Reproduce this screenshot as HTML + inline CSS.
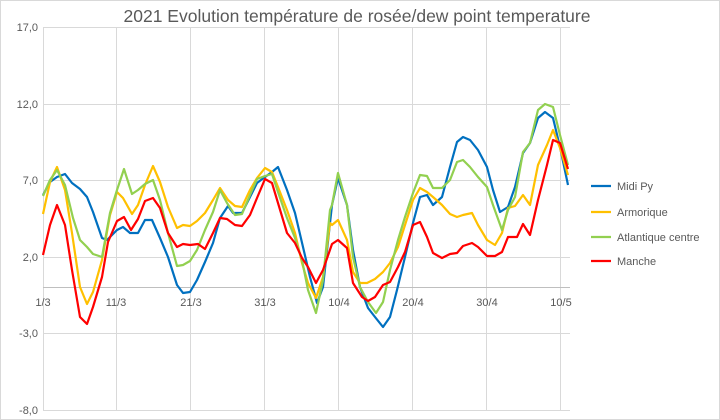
<!DOCTYPE html>
<html><head><meta charset="utf-8"><style>
body{margin:0;background:#fff}
svg{display:block;font-family:"Liberation Sans",sans-serif}
</style></head><body>
<svg width="720" height="420" viewBox="0 0 720 420">
<rect x="0.5" y="0.5" width="719" height="419" fill="#fff" stroke="#d9d9d9"/>
<text x="357" y="22" font-size="17.5" fill="#595959" text-anchor="middle">2021 Evolution température de rosée/dew point temperature</text>
<g stroke="#d9d9d9" stroke-width="1">
<line x1="43" y1="27.5" x2="570" y2="27.5"/><line x1="43" y1="104.5" x2="570" y2="104.5"/>
<line x1="43" y1="180.5" x2="570" y2="180.5"/><line x1="43" y1="257.5" x2="570" y2="257.5"/>
<line x1="43" y1="333.5" x2="570" y2="333.5"/><line x1="43" y1="410.5" x2="570" y2="410.5"/>
<line x1="116.5" y1="27" x2="116.5" y2="410"/><line x1="190.5" y1="27" x2="190.5" y2="410"/>
<line x1="264.5" y1="27" x2="264.5" y2="410"/><line x1="338.5" y1="27" x2="338.5" y2="410"/>
<line x1="412.5" y1="27" x2="412.5" y2="410"/><line x1="486.5" y1="27" x2="486.5" y2="410"/>
<line x1="560.5" y1="27" x2="560.5" y2="410"/>
<line x1="43.5" y1="27" x2="43.5" y2="410"/>
</g>
<line x1="43" y1="287.5" x2="570" y2="287.5" stroke="#bfbfbf"/>
<g font-size="11" fill="#595959" text-anchor="end">
<text x="38" y="31">17,0</text><text x="38" y="108">12,0</text><text x="38" y="184">7,0</text>
<text x="38" y="261">2,0</text><text x="38" y="337">-3,0</text><text x="38" y="414">-8,0</text>
</g>
<g font-size="11" fill="#595959" text-anchor="middle">
<text x="43" y="306">1/3</text><text x="116" y="306">11/3</text><text x="191" y="306">21/3</text>
<text x="265" y="306">31/3</text><text x="339" y="306">10/4</text><text x="413" y="306">20/4</text>
<text x="487" y="306">30/4</text><text x="561" y="306">10/5</text>
</g>
<g fill="none" stroke-width="2.2" stroke-linejoin="round">
<polyline stroke="#0070c0" points="43,195 50,182 57,177 65,174 72,183 80,189 87,197 93,212 102,238 107,240 117,230 123,227 130,233 138,233 145,220 152,220 160,238 168,257 177,285 183,293 190,292 197,280 205,262 213,243 220,218 228,206 233,213 242,213 250,197 257,183 265,177 272,172 278,167 287,190 295,213 303,247 310,277 317,303 323,287 330,223 332,205 338,178 347,205 353,250 360,287 368,308 375,317 383,327 390,317 397,290 405,257 413,223 420,197 427,195 433,205 442,197 450,167 457,142 463,137 470,140 478,150 487,167 493,190 500,212 508,207 515,187 523,153 530,143 538,118 545,112 553,118 560,147 568,185"/>
<polyline stroke="#ffc000" points="43,214 50,182 57,167 65,190 72,233 80,287 87,304 93,292 102,260 110,215 117,192 123,198 132,214 138,205 145,185 153,166 160,182 168,207 177,228 183,225 190,226 197,221 205,213 213,200 220,188 228,200 235,206 242,207 250,190 257,178 265,168 272,172 278,187 287,210 295,233 302,263 308,283 316,298 323,277 330,223 332,225 338,220 347,240 353,272 360,283 367,283 375,279 383,272 390,263 398,247 405,225 413,200 420,188 427,192 433,197 442,205 450,214 457,217 463,215 472,213 478,225 487,240 495,245 502,233 508,208 515,206 523,195 530,205 538,165 547,145 553,130 560,148 568,175"/>
<polyline stroke="#92d050" points="43,196 50,180 57,170 65,185 73,218 80,240 87,247 93,254 102,257 110,213 117,190 124,169 132,194 138,190 145,184 153,180 160,200 168,233 177,266 183,265 190,261 197,250 205,230 213,212 220,190 227,203 235,215 242,214 250,195 257,179 265,176 272,174 278,192 287,218 295,238 302,260 308,290 316,313 323,280 330,210 332,205 338,173 347,205 353,257 360,287 368,302 376,313 383,302 390,270 398,240 405,217 413,193 420,175 427,176 433,188 442,188 450,180 457,162 463,160 470,167 478,177 487,187 493,205 502,230 508,210 515,197 523,152 530,143 538,110 545,104 553,107 560,135 568,165"/>
<polyline stroke="#ff0000" points="43,255 50,225 57,205 65,225 72,270 80,317 87,324 93,307 102,277 108,242 117,221 124,217 131,230 138,219 145,201 153,198 160,208 168,233 177,247 183,244 190,245 198,244 205,249 213,233 220,218 227,219 235,225 242,226 250,215 257,198 265,179 272,183 278,203 287,233 295,243 302,258 308,267 316,283 323,270 332,244 338,240 347,248 353,283 362,297 368,301 375,297 383,285 390,282 398,267 405,252 413,225 420,222 427,237 433,253 442,258 450,254 457,253 463,246 472,243 478,247 487,256 495,256 502,252 508,237 517,237 523,224 530,235 538,200 547,165 553,140 560,143 568,169"/>
</g>
<g font-size="11" fill="#595959">
<line x1="591" y1="186" x2="611" y2="186" stroke="#0070c0" stroke-width="2.2"/><text x="617" y="190">Midi Py</text>
<line x1="591" y1="212" x2="611" y2="212" stroke="#ffc000" stroke-width="2.2"/><text x="617" y="216">Armorique</text>
<line x1="591" y1="237" x2="611" y2="237" stroke="#92d050" stroke-width="2.2"/><text x="617" y="241">Atlantique centre</text>
<line x1="591" y1="261" x2="611" y2="261" stroke="#ff0000" stroke-width="2.2"/><text x="617" y="265">Manche</text>
</g>
</svg>
</body></html>
